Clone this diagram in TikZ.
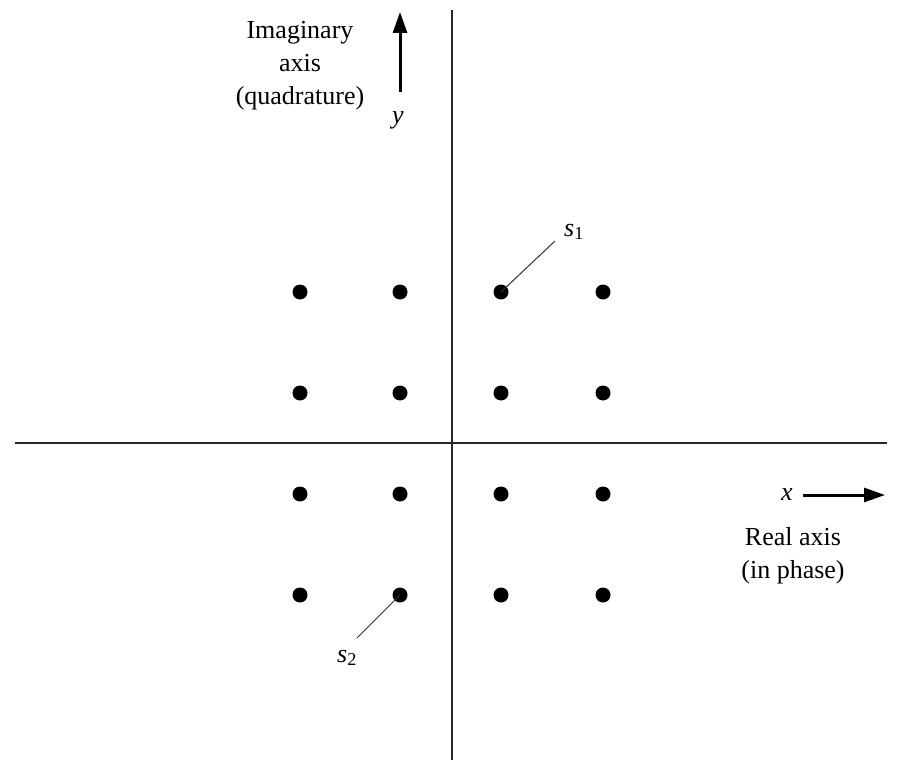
\documentclass[tikz,border=0pt]{standalone}
\usepackage{fontspec}
\setmainfont{Liberation Serif}
\usetikzlibrary{arrows.meta}
\begin{document}
\begin{tikzpicture}[x=1pt,y=-1pt,
  dot/.style={circle,fill=black,inner sep=0pt,minimum size=15pt},
  axisline/.style={line width=1.4pt,black!85},
  bigarrow/.style={line width=3pt,-{Triangle[length=21pt,width=14pt]}},
  leader/.style={line width=1pt,black!80},
  lbl/.style={font=\rmfamily\fontsize{26}{33}\selectfont,align=center,inner sep=0pt},
  mlbl/.style={font=\rmfamily\fontsize{26}{33}\selectfont\itshape,inner sep=0pt}]
\useasboundingbox (0,0) rectangle (908,760);
% axes
\coordinate (vt) at (452,10);
\coordinate (vb) at (452,760);
\coordinate (hl) at (15,443);
\coordinate (hr) at (887,443);
\draw[axisline] (vt) -- (vb);
\draw[axisline] (hl) -- (hr);
% constellation points
\foreach \i/\x in {1/300,2/400,3/501,4/603}{
  \foreach \j/\y in {1/292,2/393,3/494,4/595}{
    \node[dot] (p\i\j) at (\x,\y) {};
  }
}
% imaginary axis label and arrow
\node[lbl] (imag) at (300,66) {Imaginary\\axis\\(quadrature)};
\coordinate (ya) at (400,92);
\coordinate (yb) at (400,12);
\draw[bigarrow] (ya) -- (yb);
\node[mlbl] (ylab) at (398,120) {y};
% real axis label and arrow
\coordinate (xa) at (803,495);
\coordinate (xb) at (885,495);
\draw[bigarrow] (xa) -- (xb);
\node[mlbl] (xlab) at (787,495) {x};
\node[lbl] (real) at (793,556) {Real axis\\(in phase)};
% symbol labels
\node[mlbl,anchor=base west] (s1) at (564,236) {s\textsubscript{\upshape 1}};
\node[mlbl,anchor=base west] (s2) at (337,662) {s\textsubscript{\upshape 2}};
\coordinate (s1c) at (555,241);
\coordinate (s2c) at (357,638);
\draw[leader] (p31.center) -- (s1c);
\draw[leader] (p24.center) -- (s2c);
\end{tikzpicture}
\end{document}
